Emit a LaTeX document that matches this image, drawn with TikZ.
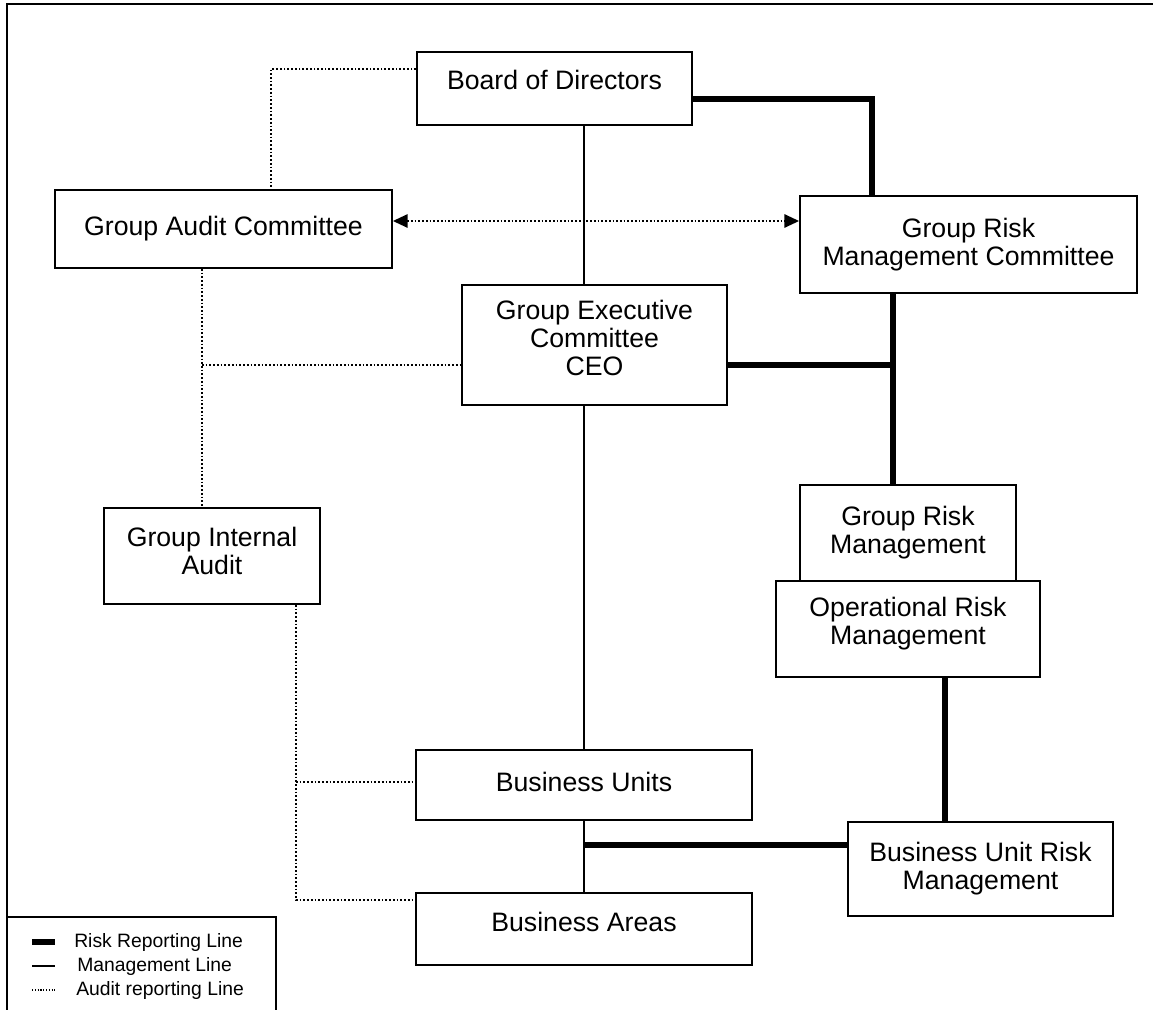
\documentclass[tikz,border=0pt]{standalone}
\usepackage{fontspec}
\setmainfont{Liberation Sans}
\usetikzlibrary{arrows.meta}
\begin{document}
\begin{tikzpicture}[x=0.75pt,y=-0.75pt,
  box/.style={draw, line width=1.4pt, align=center, inner sep=0pt,
    font=\fontsize{20pt}{21pt}\selectfont},
  mgmt/.style={line width=1.4pt},
  risk/.style={line width=3.8pt},
  audit/.style={line width=1.3pt, dash pattern=on 1.3pt off 1.5pt},
  legtext/.style={anchor=west, inner sep=0pt, font=\fontsize{14.5pt}{16pt}\selectfont}
]
\useasboundingbox (0,0) rectangle (1153,1010);
% frame
\draw[line width=1.4pt] (7,1010) -- (7,4) -- (1153,4);

% boxes
\node[box, text depth=12.75pt, minimum width=275*0.75pt, minimum height=73*0.75pt] (bod) at (554.5,88.5) {Board of Directors};
\node[box, minimum width=337*0.75pt, minimum height=78*0.75pt] (gac) at (223.5,229) {Group Audit Committee};
\node[box, minimum width=337*0.75pt, minimum height=97*0.75pt] (grmc) at (968.5,244.5) {Group Risk\\Management Committee};
\node[box, text depth=10pt, minimum width=265*0.75pt, minimum height=120*0.75pt] (gec) at (594.5,345) {Group Executive\\Committee\\CEO};
\node[box, minimum width=216*0.75pt, minimum height=96*0.75pt] (grm) at (908,533) {Group Risk\\Management};
\node[box, fill=white, text depth=11.7pt, minimum width=264*0.75pt, minimum height=96*0.75pt] (orm) at (908,629) {Operational Risk\\Management};
\node[box, text depth=7.5pt, minimum width=216*0.75pt, minimum height=96*0.75pt] (gia) at (212,556) {Group Internal\\Audit};
\node[box, text depth=4.5pt, minimum width=336*0.75pt, minimum height=70*0.75pt] (bu) at (584,785) {Business Units};
\node[box, text depth=10.5pt, minimum width=336*0.75pt, minimum height=72*0.75pt] (ba) at (584,929) {Business Areas};
\node[box, minimum width=265*0.75pt, minimum height=94*0.75pt] (burm) at (980.5,869) {Business Unit Risk\\Management};

% helper coordinates
\coordinate (k1) at (872,99);
\coordinate (a1) at (600,221);
\coordinate (d1) at (271,69);
\coordinate (d2) at (202,365);
\coordinate (r2) at (893,365);
\coordinate (r3) at (945,700);
\coordinate (r4) at (584,845);
\coordinate (d3) at (296,782);
\coordinate (d4) at (296,900);

% management lines
\draw[mgmt] (bod.south -| bu.north) -- (gec.north -| bu.north);
\draw[mgmt] (gec.south -| bu.north) -- (bu.north);
\draw[mgmt] (bu.south) -- (ba.north);

% risk reporting lines
\draw[risk] (bod.east |- k1) -- (k1) -- (k1 |- grmc.north);
\draw[risk] (grmc.south -| r2) -- (grm.north -| r2);
\draw[risk] (gec.east |- r2) -- (r2);
\draw[risk] (orm.south -| r3) -- (burm.north -| r3);
\draw[risk] (r4) -- (burm.west |- r4);

% audit lines
\draw[audit, {Triangle[length=11pt,width=10pt]}-{Triangle[length=11pt,width=10pt]}] (gac.east |- a1) -- (grmc.west |- a1);
\draw[audit] (bod.west |- d1) -- (d1) -- (d1 |- gac.north);
\draw[audit] (gac.south -| d2) -- (gia.north -| d2);
\draw[audit] (d2) -- (gec.west |- d2);
\draw[audit] (gia.south -| d3) -- (d4) -- (ba.west |- d4);
\draw[audit] (d3) -- (bu.west |- d3);

% legend
\draw[line width=1.4pt] (7,917) -- (276,917) -- (276,1010);
\draw[line width=4pt] (32,942) -- (55,942);
\draw[line width=1.4pt] (32,966) -- (55,966);
\draw[line width=0.9pt, dash pattern=on 0.9pt off 1.2pt] (32,990) -- (55,990);
\node[legtext] (l1) at (74,942) {Risk Reporting Line};
\node[legtext] (l2) at (77,966) {Management Line};
\node[legtext] (l3) at (76,990) {Audit reporting Line};
\end{tikzpicture}
\end{document}
